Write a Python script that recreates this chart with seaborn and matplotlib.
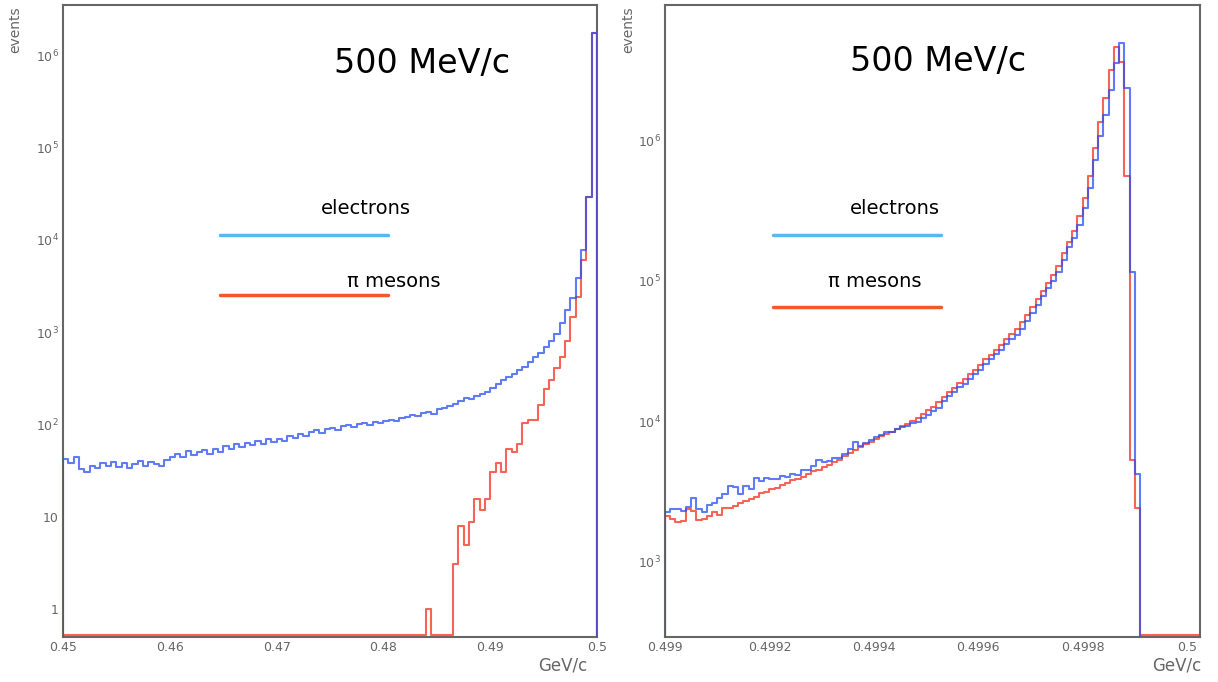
import numpy as np
import pandas as pd
import matplotlib
matplotlib.use("Agg")
import matplotlib.pyplot as plt
from matplotlib.lines import Line2D
from matplotlib.ticker import FixedLocator, FuncFormatter, AutoMinorLocator, LogLocator, NullFormatter
import seaborn as sns

# left panel: 0.45 - 0.5 GeV/c, 100 bins
left_range = (0.45, 0.5)
left_electrons = [
    42, 38, 45, 33, 31, 36, 34, 38, 36, 39,
    35, 38, 34, 37, 40, 36, 39, 37, 36, 41,
    44, 48, 45, 52, 47, 50, 53, 48, 55, 51,
    58, 54, 61, 57, 63, 60, 66, 62, 69, 64,
    70, 67, 76, 72, 79, 75, 84, 88, 82, 90,
    92, 88, 96, 99, 94, 101, 104, 99, 107, 103,
    108, 112, 110, 118, 121, 128, 124, 133, 137, 131,
    146, 150, 158, 165, 178, 195, 190, 203, 212, 228,
    250, 275, 300, 330, 350, 385, 425, 470, 540, 600,
    700, 800, 950, 1250, 1750, 2350, 3870, 7800, 29000, 1740000,
]
left_pions = [0] * 68 + [1] + [0] * 4 + [
    3.1, 7.9, 4.9, 8.9, 15.8, 11.8, 15.8, 31, 38, 31,
    54, 50, 62, 105, 113, 113, 161, 245, 307, 413,
    545, 810, 1470, 2420, 6040, 29000, 1740000,
]

# right panel: 0.499 - 0.5 GeV/c, 100 bins
right_range = (0.499, 0.5)
right_electrons = [
    2240, 2350, 2380, 2300, 2450, 2820, 2380, 2250, 2520, 2630,
    2820, 3020, 3470, 3400, 3050, 3470, 3300, 3950, 3720, 3950,
    3850, 3900, 4050, 4030, 4200, 4150, 4500, 4500, 4800, 5300,
    5100, 5200, 5500, 5500, 5800, 6300, 7100, 6600, 7000, 7300,
    7700, 8000, 8300, 8400, 8800, 9100, 9300, 9700, 9900, 10600,
    11000, 11800, 12500, 13800, 15000, 16000, 17500, 18500, 20000, 21500,
    23000, 25500, 27500, 30000, 32000, 35500, 38500, 41000, 45500, 52000,
    59000, 67000, 78000, 89000, 100000, 115000, 141000, 174000, 200000, 250000,
    330000, 455000, 720000, 1070000, 1510000, 2290000, 3550000, 4900000, 2340000, 115000,
    4200, 0, 0, 0, 0, 0, 0, 0, 0, 0,
]
right_pions = [
    2100, 2000, 1900, 1950, 2350, 2300, 1980, 2000, 2100, 2250,
    2150, 2400, 2400, 2500, 2600, 2700, 2800, 2900, 3100, 3150,
    3300, 3350, 3500, 3650, 3800, 3900, 4000, 4200, 4400, 4500,
    4700, 4900, 5100, 5300, 5600, 5900, 6200, 6500, 6900, 7100,
    7400, 7800, 8100, 8400, 8800, 9300, 9600, 10000, 10500, 11200,
    12000, 12700, 13600, 14800, 16000, 17200, 18600, 20000, 21500, 23000,
    25000, 27500, 29500, 32000, 35000, 38500, 41500, 45500, 50500, 57000,
    65000, 74000, 85000, 97000, 110000, 128000, 157000, 190000, 225000, 290000,
    390000, 560000, 880000, 1350000, 2000000, 3150000, 4600000, 3600000, 560000, 5300,
    2400, 0, 0, 0, 0, 0, 0, 0, 0, 0,
]

left_xticks = [0.45, 0.46, 0.47, 0.48, 0.49, 0.5]
right_xticks = [0.499, 0.4992, 0.4994, 0.4996, 0.4998, 0.5]

BLUE = "#2a4ff2"
RED = "#f2301f"
GRAY = "#666666"

sns.set_style("white")
plt.rcParams["font.family"] = ["DejaVu Sans"]


def draw_hist(ax, lo, hi, counts, color, floor, pad=4):
    # empty bins are drawn on the frame minimum, like ROOT does
    n = len(counts)
    w = (hi - lo) / n
    edges = lo + w * np.arange(-pad, n + pad + 1)
    centers = (edges[:-1] + edges[1:]) / 2
    heights = np.concatenate([np.zeros(pad), counts, np.zeros(pad)])
    heights = np.clip(heights, floor, None)
    df = pd.DataFrame({"p": centers, "n": heights})
    sns.histplot(data=df, x="p", weights="n", bins=list(edges), element="step", fill=False,
                 color=color, linewidth=1.5, alpha=0.75, ax=ax, zorder=3)


def log_label(v, pos):
    if v == 1:
        return "1"
    if v == 10:
        return "10"
    return r"$10^{%d}$" % round(np.log10(v))


def style_axis(ax, xlim, ylim, xticks, yticks):
    ax.set_yscale("log")
    ax.set_xlim(*xlim)
    ax.set_ylim(*ylim)
    ax.xaxis.set_major_locator(FixedLocator(xticks))
    ax.xaxis.set_major_formatter(FuncFormatter(lambda v, p: "%g" % v))
    ax.xaxis.set_minor_locator(AutoMinorLocator(5))
    ax.yaxis.set_major_locator(FixedLocator(yticks))
    ax.yaxis.set_major_formatter(FuncFormatter(log_label))
    ax.yaxis.set_minor_locator(LogLocator(base=10, subs=np.arange(2, 10)))
    ax.yaxis.set_minor_formatter(NullFormatter())
    ax.tick_params(which="both", direction="in", colors=GRAY, labelsize=9, pad=3)
    ax.tick_params(which="major", length=7, width=0.8)
    ax.tick_params(which="minor", length=3.5, width=0.6)
    ax.set_xlabel("")
    ax.set_ylabel("")
    for s in ax.spines.values():
        s.set_color(GRAY)
        s.set_linewidth(1.5)


W, H = 1218, 682
fig = plt.figure(figsize=(W / 100, H / 100), dpi=100)
ax_l = fig.add_axes([63 / W, 1 - 637 / H, (597 - 63) / W, (637 - 5) / H])
ax_r = fig.add_axes([665 / W, 1 - 637 / H, (1200 - 665) / W, (637 - 5) / H])

# pions show their empty bins on the frame; electrons drop just below it
draw_hist(ax_l, *left_range, left_pions, RED, 0.52)
draw_hist(ax_l, *left_range, left_electrons, BLUE, 0.4)
style_axis(ax_l, (0.45, 0.5), (0.5, 3.5e6), left_xticks, [10.0 ** k for k in range(0, 7)])

draw_hist(ax_r, *right_range, right_pions, RED, 300)
draw_hist(ax_r, *right_range, right_electrons, BLUE, 250)
style_axis(ax_r, (0.499, 0.500025), (290, 9.2e6), right_xticks, [10.0 ** k for k in range(3, 7)])


def fx(px):
    return px / W


def fy(py):
    return 1 - py / H


# titles and hand-drawn legend
for cx, cy in [(422, 63), (938, 62)]:
    fig.text(fx(cx), fy(cy), "500 MeV/c", fontsize=24, ha="center", va="center", color="black")

legend = [
    ("electrons", (366, 209), (220, 388, 235), "#55b8f2"),
    ("π mesons", (394, 281), (220, 388, 295), "#f2592a"),
    ("electrons", (895, 209), (773, 941, 235), "#55b8f2"),
    ("π mesons", (875, 281), (773, 941, 307), "#f2592a"),
]
for label, (tx, ty), (x0, x1, ly), c in legend:
    fig.text(fx(tx), fy(ty), label, fontsize=14, ha="center", va="center", color="black")
    fig.add_artist(Line2D([fx(x0), fx(x1)], [fy(ly), fy(ly)], color=c, linewidth=2.5,
                          transform=fig.transFigure))

for ex in [15, 628]:
    fig.text(fx(ex), fy(30), "events", rotation=90, fontsize=10, ha="center", va="center", color=GRAY)
for gx in [563, 1177]:
    fig.text(fx(gx), fy(665), "GeV/c", fontsize=12, ha="center", va="center", color=GRAY)

fig.savefig("out.png", dpi=100)
plt.close(fig)
